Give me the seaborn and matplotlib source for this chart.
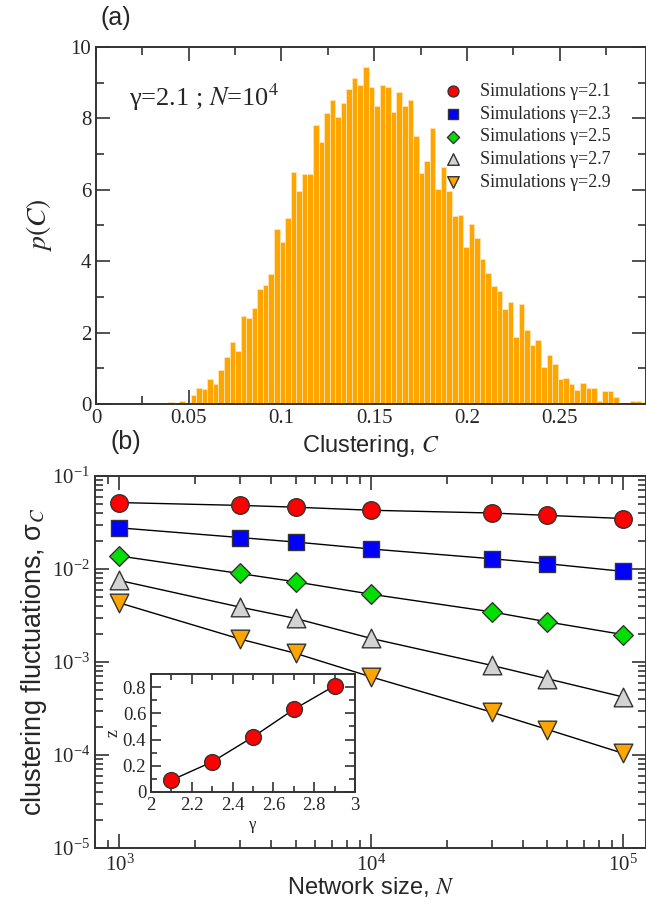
import numpy as np
import pandas as pd
import matplotlib
matplotlib.use("Agg")
import matplotlib.pyplot as plt
import seaborn as sns
from matplotlib.ticker import MultipleLocator, FixedLocator, LogLocator, NullFormatter, LogFormatterMathtext

# ---------------- data ----------------
# panel (a): histogram of clustering (bin width 0.003), bin index -> height
hist_bin_width = 0.003
hist_bin_index = list(range(13, 99))
hist_heights = [0.065, 0.0, 0.09, 0.0, 0.26, 0.46, 0.43, 0.69, 0.57, 0.96,
                1.33, 1.73, 1.49, 2.46, 2.42, 2.69, 3.22, 3.32, 3.65, 4.89,
                4.55, 5.21, 6.50, 5.96, 6.44, 6.44, 7.81, 7.35, 8.16, 8.51,
                8.05, 8.44, 8.83, 9.14, 8.93, 9.44, 8.87, 8.36, 8.93, 8.88,
                8.18, 8.74, 8.34, 8.51, 7.52, 6.48, 6.80, 7.74, 6.01, 6.64,
                5.96, 5.26, 5.29, 4.39, 5.03, 4.66, 4.05, 3.68, 3.31, 3.17,
                2.66, 2.85, 1.89, 2.79, 2.06, 1.66, 1.78, 1.05, 1.36, 1.13,
                0.69, 0.74, 0.57, 0.39, 0.60, 0.46, 0.46, 0.09, 0.36, 0.36,
                0.20, 0.03, 0.0, 0.09, 0.09, 0.065]

# panel (b): clustering fluctuations vs network size
network_sizes = [1000, 3000, 5000, 10000, 30000, 50000, 100000]
sigma_g21 = [0.0518, 0.0483, 0.0462, 0.0428, 0.0400, 0.0377, 0.0349]
sigma_g23 = [0.0277, 0.0218, 0.0195, 0.0164, 0.0129, 0.0114, 0.00942]
sigma_g25 = [0.0138, 0.00895, 0.00728, 0.00535, 0.00346, 0.00270, 0.00197]
sigma_g27 = [0.00753, 0.0039, 0.00294, 0.00179, 0.00092, 0.00066, 0.00042]
sigma_g29 = [0.00432, 0.00177, 0.00124, 0.00069, 0.000289, 0.000188, 0.000104]
series_labels = ["Simulations γ=2.1", "Simulations γ=2.3", "Simulations γ=2.5",
                 "Simulations γ=2.7", "Simulations γ=2.9"]

# inset: exponent z vs gamma
inset_gamma = [2.1, 2.3, 2.5, 2.7, 2.9]
inset_z = [0.09, 0.23, 0.42, 0.63, 0.81]

# ---------------- style ----------------
sns.set_style("ticks")
plt.rcParams["font.family"] = ["Liberation Sans", "DejaVu Sans"]
plt.rcParams["mathtext.fontset"] = "stix"
SERIF = ["Liberation Serif", "DejaVu Serif"]

W, H = 646, 902
fig = plt.figure(figsize=(W / 100, H / 100), dpi=100)

def fr(x0, y0, x1, y1):
    return [x0 / W, 1 - y1 / H, (x1 - x0) / W, (y1 - y0) / H]

ax1 = fig.add_axes(fr(96, 47, 646, 404))
ax2 = fig.add_axes(fr(95, 476, 646, 848))
axi = fig.add_axes(fr(151, 674, 355, 792))

# ---------------- panel (a) ----------------
centers = [(k + 0.5) * hist_bin_width for k in hist_bin_index]
dfh = pd.DataFrame({"C": centers, "p": hist_heights})
sns.histplot(data=dfh, x="C", weights="p", binwidth=hist_bin_width,
             binrange=(0.0, 0.3), stat="count", color="#FFA500", alpha=1.0,
             edgecolor="#FFE4B0", linewidth=0.6, ax=ax1)
ax1.set_xlim(0, 0.2966)
ax1.set_ylim(0, 10)
ax1.xaxis.set_major_locator(FixedLocator([0, 0.05, 0.1, 0.15, 0.2, 0.25]))
ax1.set_xticklabels(["0", "0.05", "0.1", "0.15", "0.2", "0.25"])
ax1.xaxis.set_minor_locator(MultipleLocator(0.025))
ax1.yaxis.set_major_locator(MultipleLocator(2))
ax1.yaxis.set_minor_locator(MultipleLocator(1))
ax1.set_xlabel("Clustering, $C$", fontsize=17, labelpad=4)
ax1.set_ylabel("$p(C)$", fontsize=20, labelpad=12)
ax1.text(0.06, 0.835, "γ=2.1 ; $N$=10$^{4}$", transform=ax1.transAxes,
         fontsize=19, family=SERIF)

# ---------------- panel (b) ----------------
ax2.set_xscale("log")
ax2.set_yscale("log")
series = [sigma_g21, sigma_g23, sigma_g25, sigma_g27, sigma_g29]
markers = ["o", "s", "D", "^", "v"]
colors = ["#FF0000", "#0000FF", "#00E000", "#D3D3D3", "#FFA500"]
sizes = [160, 145, 100, 180, 180]
for vals, m, c, s, lab in zip(series, markers, colors, sizes, series_labels):
    df = pd.DataFrame({"N": network_sizes, "sigma": vals})
    sns.lineplot(data=df, x="N", y="sigma", color="black", linewidth=1.0,
                 ax=ax2, zorder=2)
    sns.scatterplot(data=df, x="N", y="sigma", marker=m, color=c, s=s,
                    edgecolor="#333333", linewidth=1.0, ax=ax2, zorder=3,
                    label=lab)
handles, labels = ax2.get_legend_handles_labels()
ax2.get_legend().remove()
ax2.set_xlim(800, 1.23e5)
ax2.set_ylim(1e-5, 1e-1)
ax2.xaxis.set_major_locator(LogLocator(base=10, numticks=10))
ax2.xaxis.set_minor_locator(LogLocator(base=10, subs=np.arange(2, 10), numticks=10))
ax2.yaxis.set_major_locator(LogLocator(base=10, numticks=10))
ax2.yaxis.set_minor_locator(LogLocator(base=10, subs=np.arange(2, 10), numticks=10))
ax2.xaxis.set_major_formatter(LogFormatterMathtext())
ax2.yaxis.set_major_formatter(LogFormatterMathtext())
ax2.xaxis.set_minor_formatter(NullFormatter())
ax2.yaxis.set_minor_formatter(NullFormatter())
ax2.set_xlabel("Network size, $N$", fontsize=17, labelpad=-1)
ax2.set_ylabel("clustering fluctuations, σ$_C$", fontsize=19.5, labelpad=2)

# legend in panel (a)
leg = ax1.legend(handles, labels, loc="upper right", bbox_to_anchor=(0.955, 0.93),
                 frameon=False, markerscale=0.62, handletextpad=0.5,
                 labelspacing=0.32, prop={"family": SERIF, "size": 13},
                 borderaxespad=0.2)

# ---------------- inset ----------------
dfi = pd.DataFrame({"gamma": inset_gamma, "z": inset_z})
sns.lineplot(data=dfi, x="gamma", y="z", color="black", linewidth=1.0, ax=axi, zorder=2)
sns.scatterplot(data=dfi, x="gamma", y="z", marker="o", color="#FF0000", s=130,
                edgecolor="#333333", linewidth=1.0, ax=axi, zorder=3)
axi.set_xlim(2, 3)
axi.set_ylim(0, 0.9)
axi.xaxis.set_major_locator(FixedLocator([2, 2.2, 2.4, 2.6, 2.8, 3]))
axi.set_xticklabels(["2", "2.2", "2.4", "2.6", "2.8", "3"])
axi.xaxis.set_minor_locator(MultipleLocator(0.1))
axi.yaxis.set_major_locator(FixedLocator([0, 0.2, 0.4, 0.6, 0.8]))
axi.set_yticklabels(["0", "0.2", "0.4", "0.6", "0.8"])
axi.yaxis.set_minor_locator(MultipleLocator(0.1))
axi.set_xlabel("γ", fontsize=12, family=SERIF, labelpad=2)
axi.set_ylabel("z", fontsize=13, family=SERIF, labelpad=1)
axi.set_facecolor("white")

# ---------------- common axes styling ----------------
for ax, fs in [(ax1, 15), (ax2, 15), (axi, 13.5)]:
    for sp in ax.spines.values():
        sp.set_visible(True)
        sp.set_linewidth(1.4)
        sp.set_color("#333333")
    ax.tick_params(which="both", direction="in", top=True, right=True,
                   color="#333333", width=1.2)
    ax.tick_params(which="major", length=10 if ax is not axi else 7)
    ax.tick_params(which="minor", length=6 if ax is not axi else 4)
    for lab in ax.get_xticklabels() + ax.get_yticklabels():
        lab.set_fontfamily(SERIF)
        lab.set_fontsize(fs)
ax2.tick_params(axis="x", which="major", pad=5)

fig.text(100 / W, 1 - 18 / H, "(a)", fontsize=18, va="center", ha="left")
fig.text(110 / W, 1 - 442 / H, "(b)", fontsize=18, va="center", ha="left")

fig.savefig("out.png", dpi=100)
